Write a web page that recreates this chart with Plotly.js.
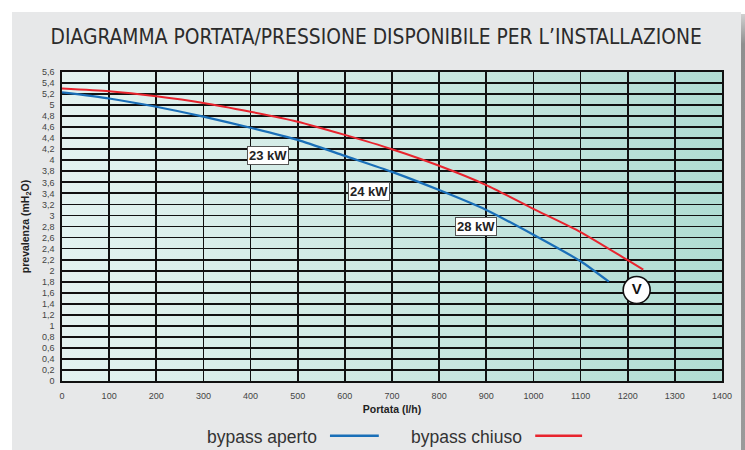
<!DOCTYPE html>
<html>
<head>
<meta charset="utf-8">
<script src="https://cdn.plot.ly/plotly-3.0.1.min.js"></script>
<style>
  html, body { margin: 0; padding: 0; background: #ffffff; }
  #wrap { position: relative; width: 745px; height: 450px; overflow: hidden; }
  #panel { position: absolute; left: 12px; top: 12px; width: 729px; height: 438px; background: #e7e8e9; }
  #shadow { position: absolute; left: 741px; top: 14px; width: 4px; height: 436px;
            background: linear-gradient(to bottom, #d0d0d0 0px, #8f8f8f 30px, #9a9a9a 100%); }
  #plotbg { position: absolute; left: 62px; top: 72px; width: 660px; height: 309px;
            background: linear-gradient(to right, #e3f3f0 0%, #cde8e2 50%, #b0ddd3 100%); }
  #chart { position: absolute; left: 0; top: 0; width: 745px; height: 450px; }
</style>
</head>
<body>
<div id="wrap">
  <div id="panel"></div>
  <div id="shadow"></div>
  <div id="plotbg"></div>
  <div id="chart"></div>
</div>
<script>
// ---- data ----
const apertoX = [0, 100, 200, 300, 400, 500, 600, 700, 800, 900, 1000, 1100, 1160];
const apertoY = [5.23, 5.12, 4.97, 4.79, 4.59, 4.37, 4.08, 3.79, 3.46, 3.10, 2.65, 2.17, 1.80];

const chiusoX = [0, 100, 200, 300, 400, 500, 600, 700, 800, 900, 1000, 1100, 1200, 1233];
const chiusoY = [5.30, 5.25, 5.16, 5.04, 4.88, 4.70, 4.46, 4.20, 3.90, 3.55, 3.12, 2.70, 2.19, 2.02];

const labelText = ['23 kW', '24 kW', '28 kW'];
const labelX = [438, 651, 879];
const labelY = [4.09, 3.44, 2.80];

const vMarkX = [1219];
const vMarkY = [1.65];
const vMarkText = ['V'];

const seriesNames = ['bypass aperto', 'bypass chiuso'];
const seriesColors = ['#1a6fb8', '#e8242e'];

const titleText = 'DIAGRAMMA PORTATA/PRESSIONE DISPONIBILE PER L\u2019INSTALLAZIONE';
const xTitle = 'Portata (l/h)';
const yTitle = 'prevalenza (mH<sub>2</sub>O)';

// ---- traces ----
const traces = [
  { x: apertoX, y: apertoY, mode: 'lines', name: seriesNames[0],
    line: { color: seriesColors[0], width: 2.2, shape: 'spline', smoothing: 0.6 }, hoverinfo: 'skip' },
  { x: chiusoX, y: chiusoY, mode: 'lines', name: seriesNames[1],
    line: { color: seriesColors[1], width: 2, shape: 'spline', smoothing: 0.6 }, hoverinfo: 'skip' },
  { x: vMarkX, y: vMarkY, text: vMarkText, mode: 'markers+text', textposition: 'middle center',
    marker: { size: 27, color: '#ffffff', line: { color: '#111111', width: 1.6 } },
    textfont: { family: 'Liberation Sans, Arial, sans-serif', size: 15, color: '#111111', weight: 'bold' },
    hoverinfo: 'skip', showlegend: false }
];

const annotations = labelText.map((t, i) => ({
  x: labelX[i], y: labelY[i], xref: 'x', yref: 'y', text: '<b>' + t + '</b>', showarrow: false,
  bgcolor: '#ffffff', bordercolor: '#555555', borderwidth: 1, borderpad: 1,
  font: { family: 'Liberation Sans, Arial, sans-serif', size: 13, color: '#222222' }
}));

// legend drawn as text + line shapes (text precedes the line sample as in the reference)
const legY = -0.181;
annotations.push(
  { x: 0.389, y: legY, xref: 'paper', yref: 'paper', xanchor: 'right', yanchor: 'middle', showarrow: false,
    text: seriesNames[0], font: { family: 'Liberation Sans, Arial, sans-serif', size: 17.5, color: '#333333' } },
  { x: 0.700, y: legY, xref: 'paper', yref: 'paper', xanchor: 'right', yanchor: 'middle', showarrow: false,
    text: seriesNames[1], font: { family: 'Liberation Sans, Arial, sans-serif', size: 17.5, color: '#333333' } }
);
const shapes = [
  { type: 'line', xref: 'paper', yref: 'paper', x0: 0.406, x1: 0.480, y0: legY + 0.004, y1: legY + 0.004,
    line: { color: seriesColors[0], width: 2.5 } },
  { type: 'line', xref: 'paper', yref: 'paper', x0: 0.717, x1: 0.788, y0: legY + 0.004, y1: legY + 0.004,
    line: { color: seriesColors[1], width: 2.5 } }
];

const tickFont = { family: 'Liberation Sans, Arial, sans-serif', size: 9, color: '#444444' };

const layout = {
  width: 745, height: 450,
  margin: { l: 62, r: 23, t: 72, b: 69, pad: 0 },
  paper_bgcolor: 'rgba(0,0,0,0)',
  plot_bgcolor: 'rgba(0,0,0,0)',
  separators: ',.',
  showlegend: false,
  title: { text: titleText, x: 0.505, xref: 'container', xanchor: 'center', y: 1 - 37 / 450, yref: 'container', yanchor: 'middle',
           font: { family: 'Liberation Sans Narrow, DejaVu Sans Condensed, Arial Narrow, sans-serif', size: 20.8, color: '#2b2b2b' } },
  xaxis: {
    range: [0, 1400], dtick: 100, tick0: 0, fixedrange: true,
    showgrid: true, gridcolor: '#111111', gridwidth: 1.6,
    showline: true, mirror: true, linecolor: '#111111', linewidth: 1.7,
    zeroline: false, ticks: '', tickfont: tickFont, ticklabelstandoff: 5,
    title: { text: '<b>' + xTitle + '</b>', standoff: 6, font: { family: 'Liberation Sans, Arial, sans-serif', size: 10.5, color: '#222222' } }
  },
  yaxis: {
    range: [0, 5.6], dtick: 0.2, tick0: 0, fixedrange: true,
    showgrid: true, gridcolor: '#111111', gridwidth: 1.8,
    showline: true, mirror: true, linecolor: '#111111', linewidth: 1.7,
    zeroline: false, ticks: '', tickfont: tickFont, ticklabelstandoff: 4,
    title: { text: '<b>' + yTitle + '</b>', standoff: 10, font: { family: 'Liberation Sans, Arial, sans-serif', size: 10.5, color: '#222222' } }
  },
  annotations: annotations,
  shapes: shapes
};

Plotly.newPlot('chart', traces, layout, { staticPlot: true, displayModeBar: false });
</script>
</body>
</html>
